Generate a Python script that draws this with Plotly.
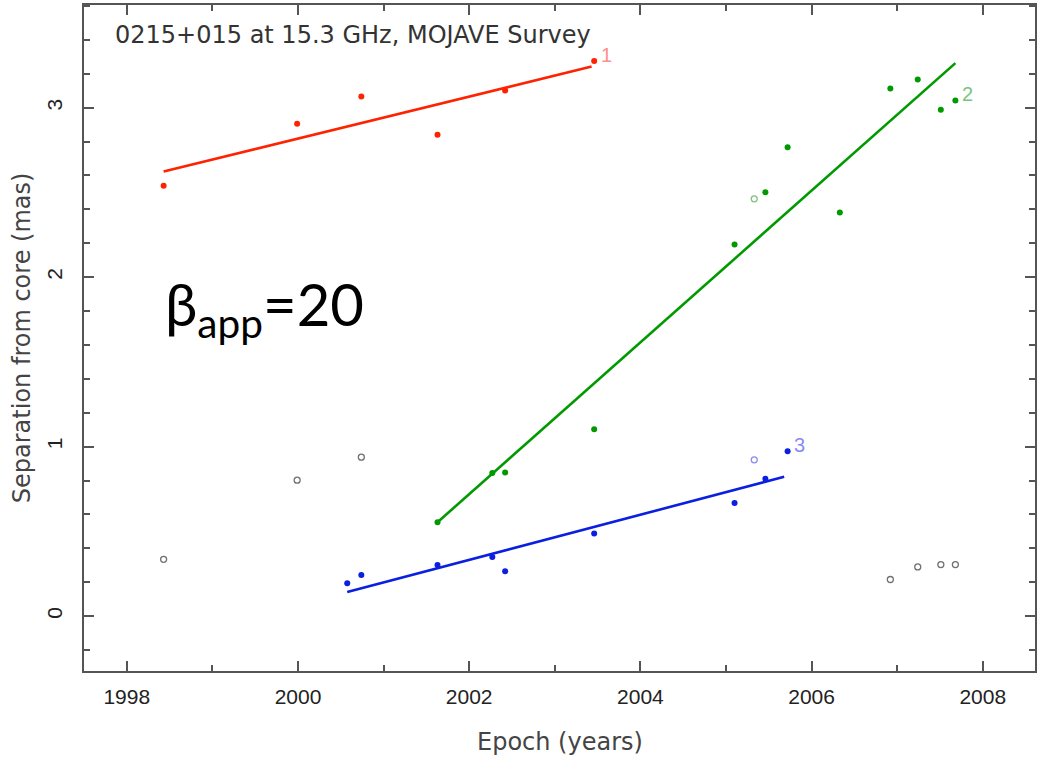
import plotly.graph_objects as go

# Component 1 (red)
red_epoch = [1998.43, 1999.99, 2000.74, 2001.63, 2002.42, 2003.46]
red_sep = [2.540, 2.905, 3.066, 2.840, 3.102, 3.275]
red_fit_epoch = [1998.43, 2003.43]
red_fit_sep = [2.623, 3.243]

# Component 2 (green)
green_epoch = [2001.63, 2002.27, 2002.42, 2003.46, 2005.10, 2005.46, 2005.72,
               2006.33, 2006.92, 2007.24, 2007.51, 2007.68]
green_sep = [0.554, 0.845, 0.848, 1.103, 2.192, 2.501, 2.767,
             2.381, 3.113, 3.167, 2.988, 3.043]
green_open_epoch = [2005.33]
green_open_sep = [2.462]
green_fit_epoch = [2001.63, 2007.68]
green_fit_sep = [0.554, 3.263]

# Component 3 (blue)
blue_epoch = [2000.575, 2000.74, 2001.63, 2002.27, 2002.42, 2003.46,
              2005.10, 2005.46, 2005.72]
blue_sep = [0.194, 0.243, 0.302, 0.349, 0.265, 0.487, 0.668, 0.810, 0.973]
blue_open_epoch = [2005.33]
blue_open_sep = [0.922]
blue_fit_epoch = [2000.575, 2005.68]
blue_fit_sep = [0.142, 0.822]

# Unassociated features
other_epoch = [1998.43, 1999.99, 2000.74, 2006.92, 2007.24, 2007.51, 2007.68]
other_sep = [0.335, 0.802, 0.938, 0.216, 0.290, 0.304, 0.304]

x_range = [1997.50, 2008.61]
y_range = [-0.324, 3.606]

title_text = "0215+015 at 15.3 GHz, MOJAVE Survey"
x_title = "Epoch (years)"
y_title = "Separation from core (mas)"
speed_text = "β<sub>app</sub>=20"

RED, GREEN, BLUE = "#ff2200", "#009a00", "#0a1fe0"
RED_LT, GREEN_LT, BLUE_LT = "#ff8f8f", "#7cc47c", "#8a8af5"
GREY = "#707070"
AXIS = "#555555"

fig = go.Figure()


def dots(x, y, color):
    fig.add_trace(go.Scatter(x=x, y=y, mode="markers",
                             marker=dict(symbol="circle", size=6, color=color,
                                         line=dict(width=0)),
                             showlegend=False, hoverinfo="skip"))


def rings(x, y, color):
    fig.add_trace(go.Scatter(x=x, y=y, mode="markers",
                             marker=dict(symbol="circle-open", size=6, color=color,
                                         line=dict(width=1.3, color=color)),
                             showlegend=False, hoverinfo="skip"))


def fit(x, y, color):
    fig.add_trace(go.Scatter(x=x, y=y, mode="lines",
                             line=dict(color=color, width=2.6),
                             showlegend=False, hoverinfo="skip"))


fit(red_fit_epoch, red_fit_sep, RED)
fit(green_fit_epoch, green_fit_sep, GREEN)
fit(blue_fit_epoch, blue_fit_sep, BLUE)

rings(other_epoch, other_sep, GREY)
rings(green_open_epoch, green_open_sep, GREEN_LT)
rings(blue_open_epoch, blue_open_sep, BLUE_LT)

dots(red_epoch, red_sep, RED)
dots(green_epoch, green_sep, GREEN)
dots(blue_epoch, blue_sep, BLUE)

# Component ID labels next to the latest epoch of each component
for ep, sp, lab, col in [(red_epoch[-1], red_sep[-1], "1", RED_LT),
                         (green_epoch[-1], green_sep[-1], "2", GREEN_LT),
                         (blue_epoch[-1], blue_sep[-1], "3", BLUE_LT)]:
    fig.add_annotation(x=ep, y=sp, text=lab, showarrow=False,
                       xanchor="center", yanchor="middle", xshift=12, yshift=6,
                       font=dict(family="Liberation Sans", size=20, color=col))

fig.add_annotation(xref="paper", yref="paper", x=0.030, y=0.955,
                   text=title_text, showarrow=False, xanchor="left", yanchor="middle",
                   font=dict(family="DejaVu Sans", size=24, color="#333333"))

fig.add_annotation(xref="paper", yref="paper", x=0.0829, y=0.545,
                   text=speed_text, showarrow=False, xanchor="left", yanchor="middle",
                   font=dict(family="Lato", size=58, color="#000000"))

fig.add_annotation(xref="paper", yref="paper", x=0.5, y=-0.107,
                   text=x_title, showarrow=False, xanchor="center", yanchor="middle",
                   font=dict(family="DejaVu Sans", size=24, color="#444444"))

fig.add_annotation(xref="paper", yref="paper", x=-0.065, y=0.5,
                   text=y_title, showarrow=False, xanchor="center", yanchor="middle",
                   textangle=-90,
                   font=dict(family="DejaVu Sans", size=24, color="#444444"))

axis_common = dict(showgrid=False, zeroline=False, showline=True, linecolor=AXIS,
                   linewidth=2, mirror="allticks", ticks="inside", ticklen=10,
                   tickwidth=1.5, tickcolor=AXIS,
                   tickfont=dict(family="Liberation Sans", size=21, color="#222222"))

fig.update_xaxes(range=x_range, tickmode="linear", tick0=1998, dtick=2,
                 ticklabelstandoff=6,
                 minor=dict(dtick=1, tick0=1998, ticks="inside", ticklen=6,
                            tickwidth=1.5, tickcolor=AXIS),
                 **axis_common)
fig.update_yaxes(range=y_range, tickmode="linear", tick0=0, dtick=1,
                 tickangle=-90, ticklabelstandoff=12,
                 minor=dict(dtick=0.2, tick0=0, ticks="inside", ticklen=6,
                            tickwidth=1.5, tickcolor=AXIS),
                 **axis_common)

fig.update_layout(width=1039, height=759, autosize=False,
                  margin=dict(l=84, r=2, t=5, b=88),
                  paper_bgcolor="white", plot_bgcolor="white")

fig.write_html("out.html")
